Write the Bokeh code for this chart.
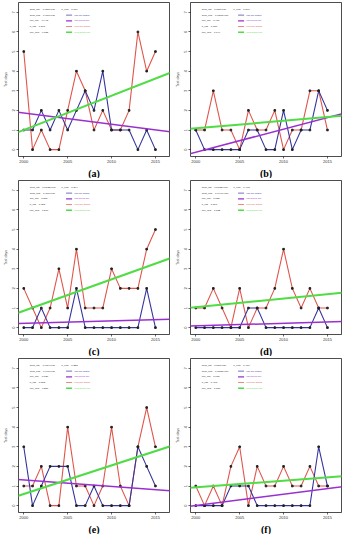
import numpy as np
from bokeh.plotting import figure
from bokeh.layouts import gridplot
from bokeh.models import Title, Label, Range1d, FixedTicker, Slope
from bokeh.embed import file_html
from bokeh.resources import INLINE

years = list(range(2000, 2016))
x_ticks = [2000, 2005, 2010, 2015]
y_ticks = [0, 1, 2, 3, 4, 5, 6, 7]

panel_labels = ["(a)", "(b)", "(c)", "(d)", "(e)", "(f)"]

ind_a = [1, 1, 2, 1, 2, 1, 2, 3, 2, 4, 1, 1, 1, 0, 1, 0]
oed_a = [5, 0, 1, 0, 0, 2, 4, 3, 1, 2, 1, 1, 2, 6, 4, 5]
ind_b = [1, 0, 0, 0, 0, 0, 1, 1, 0, 0, 2, 0, 1, 1, 3, 2]
oed_b = [1, 1, 3, 1, 1, 0, 2, 1, 1, 2, 0, 1, 1, 3, 3, 1]
ind_c = [0, 0, 1, 0, 0, 0, 2, 0, 0, 0, 0, 0, 0, 0, 2, 0]
oed_c = [2, 1, 0, 1, 3, 1, 4, 1, 1, 1, 3, 2, 2, 2, 4, 5]
ind_d = [0, 0, 0, 0, 0, 0, 1, 1, 0, 0, 0, 0, 0, 0, 1, 0]
oed_d = [1, 1, 2, 1, 0, 2, 0, 1, 1, 2, 4, 2, 1, 2, 1, 1]
ind_e = [3, 0, 1, 2, 2, 2, 0, 0, 1, 0, 0, 0, 0, 3, 2, 1]
oed_e = [1, 1, 2, 0, 0, 4, 1, 1, 0, 1, 4, 1, 0, 3, 5, 3]
ind_f = [0, 0, 0, 0, 1, 1, 1, 0, 0, 0, 0, 0, 0, 0, 3, 1]
oed_f = [1, 0, 1, 0, 2, 3, 0, 2, 1, 1, 2, 1, 1, 2, 1, 1]

slr_ind = ["-0.057/year", "0.118/year", "0.0132/year", "0.0132/year", "-0.034/year", "0.057/year"]
slr_oed = ["0.170/year", "0.0392/year", "0.160/year", "0.0441/year", "0.146/year", "0.0338/year"]
mk_ind = ["-0.448", "0.466", "0.237", "0.152", "-0.126", "0.178"]
p_ind = ["0.241", "0.030", "0.305", "0.590", "0.505", "0.403"]
mk_oed = ["0.335", "0.144", "0.240", "0.152", "0.250", "0.150"]
p_oed = ["0.079", "0.546", "0.244", "0.495", "0.223", "0.400"]

legend_names = ["ind line graph", "ind Trend line", "oed line graph", "oed Trend line"]

C_IND = "#35359e"
C_IND_T = "#9a2fd0"
C_OED = "#e0564c"
C_OED_T = "#4fdc44"

ind_all = [ind_a, ind_b, ind_c, ind_d, ind_e, ind_f]
oed_all = [oed_a, oed_b, oed_c, oed_d, oed_e, oed_f]

X0, X1 = 1999.4, 2016.6
Y0, Y1 = -0.35, 7.5

SANS = "Liberation Sans"


def fx(f):
    return X0 + f * (X1 - X0)


def fy(f):
    return Y1 - f * (Y1 - Y0)


figs = []
for i in range(6):
    p = figure(width=172, height=178, output_backend="svg", toolbar_location=None,
               x_range=Range1d(X0, X1), y_range=Range1d(Y0, Y1),
               min_border_left=12, min_border_right=3, min_border_top=2, min_border_bottom=0)
    p.background_fill_color = "white"
    p.border_fill_color = "white"
    p.outline_line_color = "black"
    p.outline_line_width = 0.7
    p.xgrid.visible = False
    p.ygrid.visible = False

    p.xaxis.ticker = FixedTicker(ticks=x_ticks)
    p.yaxis.ticker = FixedTicker(ticks=y_ticks)
    for ax in (p.xaxis[0], p.yaxis[0]):
        ax.axis_line_color = None
        ax.major_tick_in = 0
        ax.major_tick_out = 2
        ax.minor_tick_line_color = None
        ax.major_tick_line_width = 0.6
        ax.major_label_text_font = SANS
        ax.major_label_text_font_size = "4px"
        ax.major_label_standoff = 1
        ax.major_label_text_color = "#333333"
    p.yaxis.major_label_orientation = "vertical"
    p.yaxis.axis_label = "Test days"
    p.yaxis.axis_label_text_font = SANS
    p.yaxis.axis_label_text_font_size = "3.5px"
    p.yaxis.axis_label_text_font_style = "normal"
    p.yaxis.axis_label_standoff = 2

    ind = ind_all[i]
    oed = oed_all[i]

    # trend lines from least squares fit of the series
    b_i, a_i = np.polyfit(years, ind, 1)
    b_o, a_o = np.polyfit(years, oed, 1)
    p.add_layout(Slope(gradient=b_i, y_intercept=a_i, line_color=C_IND_T, line_width=1.5))
    p.add_layout(Slope(gradient=b_o, y_intercept=a_o, line_color=C_OED_T, line_width=2.0))

    p.line(years, oed, line_color=C_OED, line_width=1.1)
    p.line(years, ind, line_color=C_IND, line_width=1.1)
    p.scatter(years, oed, size=1.6, marker="square", color="#222222")
    p.scatter(years, ind, size=1.6, marker="square", color="#222222")

    # legend / statistics block
    left_texts = ["SLR_ind = " + slr_ind[i], "SLR_oed = " + slr_oed[i],
                  "MK_ind = " + mk_ind[i], "p_ind = " + p_ind[i], "MK_oed = " + mk_oed[i]]
    rows = [0.045, 0.082, 0.119, 0.156, 0.193]
    for t, r in zip(left_texts, rows):
        p.add_layout(Label(x=fx(0.075), y=fy(r), text=t, text_font=SANS,
                           text_font_size="2.5px", text_color="#222222",
                           text_baseline="middle"))
    p.add_layout(Label(x=fx(0.285), y=fy(rows[0]), text="p_oed = " + p_oed[i],
                       text_font=SANS, text_font_size="2.5px",
                       text_color="#222222", text_baseline="middle"))
    sw_colors = [C_IND, C_IND_T, C_OED, C_OED_T]
    sw_widths = [0.7, 1.2, 0.7, 1.4]
    for name, col, w, r in zip(legend_names, sw_colors, sw_widths, rows[1:]):
        p.segment(x0=[fx(0.315)], y0=[fy(r)], x1=[fx(0.355)], y1=[fy(r)],
                  line_color=col, line_width=w)
        p.add_layout(Label(x=fx(0.37), y=fy(r), text=name, text_font=SANS,
                           text_font_size="2.5px", text_color=col,
                           text_baseline="middle"))

    p.add_layout(Title(text=panel_labels[i], align="center", text_font="Liberation Serif",
                       text_font_size="10px", text_font_style="bold", text_color="black",
                       standoff=0, offset=0), "below")
    figs.append(p)

grid = gridplot([[figs[0], figs[1]], [figs[2], figs[3]], [figs[4], figs[5]]],
                toolbar_location=None)

open("out.html", "w").write(file_html(grid, INLINE))
